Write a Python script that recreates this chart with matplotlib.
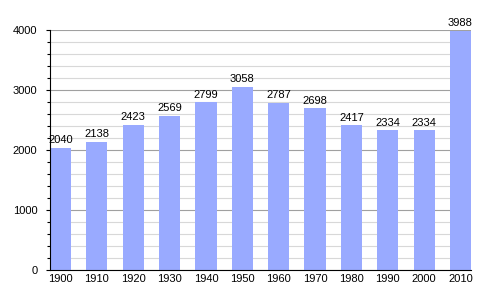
import numpy as np
import matplotlib.pyplot as plt
from matplotlib.ticker import MultipleLocator

years = ['1900', '1910', '1920', '1930', '1940', '1950', '1960', '1970', '1980', '1990', '2000', '2010']
population = [2040, 2138, 2423, 2569, 2799, 3058, 2787, 2698, 2417, 2334, 2334, 3988]

plt.rcParams['font.family'] = ['Liberation Sans', 'DejaVu Sans']

fig = plt.figure(figsize=(5, 3), dpi=100)
ax = fig.add_axes([0.1, 0.1, 0.842, 0.8])

x = np.arange(len(years))
ax.bar(x, population, width=0.58, color='#99aaff', zorder=3)
for xi, v in zip(x, population):
	ax.text(xi, v + 40, str(v), ha='center', va='bottom', fontsize=8, zorder=4)

ax.set_xlim(-0.29, len(years) - 1 + 0.29)
ax.set_ylim(0, 4000)
ax.set_xticks(x)
ax.set_xticklabels(years, fontsize=8)
ax.yaxis.set_major_locator(MultipleLocator(1000))
ax.yaxis.set_minor_locator(MultipleLocator(200))
ax.tick_params(axis='y', labelsize=8, length=3, width=0.8, pad=6)
ax.tick_params(axis='y', which='minor', length=2, width=0.8)
ax.tick_params(axis='x', length=0, pad=3)

ax.grid(axis='y', which='major', color='#a0a0a0', linewidth=0.8, zorder=1)
ax.grid(axis='y', which='minor', color='#d8d8d8', linewidth=0.8, zorder=1)
ax.spines['top'].set_visible(False)
ax.spines['right'].set_visible(False)
ax.spines['left'].set_zorder(5)
ax.spines['bottom'].set_zorder(5)

fig.savefig('out.png', dpi=100)
